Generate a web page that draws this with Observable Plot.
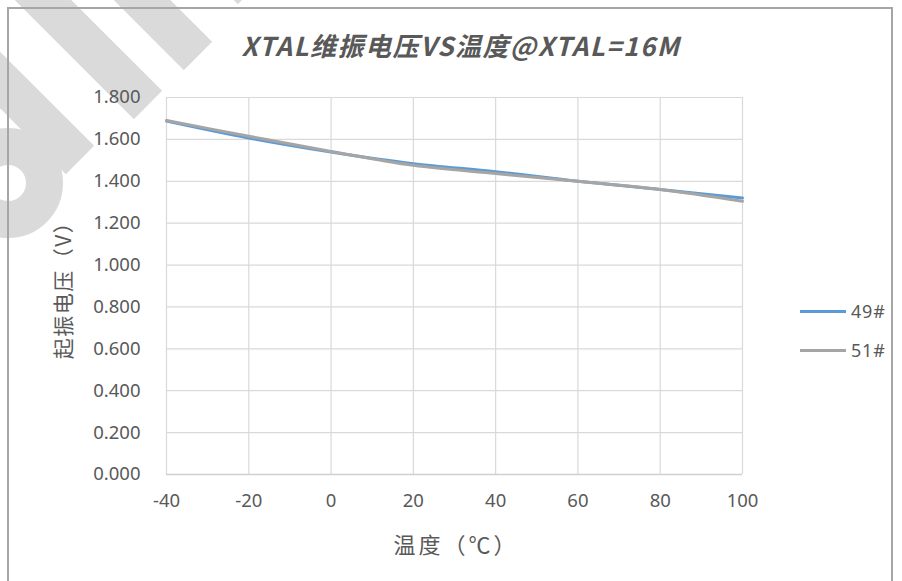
<!DOCTYPE html>
<html><head><meta charset="utf-8">
<script src="https://cdn.jsdelivr.net/npm/d3@7"></script>
<script src="https://cdn.jsdelivr.net/npm/@observablehq/plot@0.6"></script>
<style>
body{margin:0;background:#fff;}
#wrap{position:relative;width:902px;height:581px;overflow:hidden;font-family:"Noto Sans","Noto Sans CJK SC",sans-serif;color:#595959;}
.band{position:absolute;background:#dadada;height:40px;width:320px;transform-origin:100% 50%;transform:rotate(45deg);}
.ring{position:absolute;border:37px solid #dadada;border-radius:50%;width:36px;height:36px;}
#border{position:absolute;left:7px;top:7px;width:886px;height:600px;border:2px solid #a6a6a6;box-sizing:border-box;}
#chart{position:absolute;left:0;top:0;}
#title{position:absolute;left:0;width:922px;top:30px;text-align:center;font-family:"Noto Sans CJK SC",sans-serif;font-weight:bold;font-style:italic;font-size:26px;letter-spacing:1.5px;line-height:30px;color:#595959;}
#xlab{position:absolute;left:356px;width:200px;top:528px;text-align:center;font-family:"Noto Sans CJK SC",sans-serif;font-size:22px;letter-spacing:3px;line-height:30px;}
#ylab{position:absolute;left:62px;top:285px;transform:translate(-50%,-50%) rotate(-90deg);white-space:nowrap;font-family:"Noto Sans CJK SC",sans-serif;font-size:21px;letter-spacing:1.5px;line-height:30px;}
.leg{position:absolute;left:800px;font-size:18px;letter-spacing:0.8px;line-height:20px;display:flex;align-items:center;}
.leg span{display:inline-block;width:46px;height:3px;margin-right:5px;}
</style></head><body>
<div id="wrap">
  <div class="band" style="left:-172px;top:85px"></div>
  <div class="band" style="left:-122px;top:36px"></div>
  <div class="band" style="left:-240px;top:140px"></div>
  <div class="band" style="left:-68px;top:-30px"></div>
  <div class="ring" style="left:-47px;top:128px"></div>
  <div id="border"></div>
  <div id="chart"></div>
  <div id="title">XTAL维振电压VS温度@XTAL=16M</div>
  <div id="ylab">起振电压（V）</div>
  <div id="xlab">温度（℃）</div>
  <div class="leg" style="top:301px"><span style="background:#5b9bd5"></span>49#</div>
  <div class="leg" style="top:340px"><span style="background:#a5a5a5"></span>51#</div>
</div>
<script>
const temps = [-40, -20, 0, 20, 40, 60, 80, 100];
const v49 = [1.688, 1.607, 1.540, 1.484, 1.446, 1.400, 1.361, 1.320];
const v51 = [1.690, 1.615, 1.542, 1.476, 1.437, 1.400, 1.361, 1.305];
const seriesNames = ["49#", "51#"];
const colors = ["#5b9bd5", "#a5a5a5"];
const yTicks = [0, 0.2, 0.4, 0.6, 0.8, 1.0, 1.2, 1.4, 1.6, 1.8];
const xTicks = [-40, -20, 0, 20, 40, 60, 80, 100];

const data = [];
temps.forEach((t, i) => {
  data.push({t, v: v49[i], s: seriesNames[0]});
});
temps.forEach((t, i) => {
  data.push({t, v: v51[i], s: seriesNames[1]});
});

const chart = Plot.plot({
  width: 902, height: 581,
  marginLeft: 166, marginRight: 160, marginTop: 97, marginBottom: 107,
  style: {background: "transparent", fontFamily: "'Noto Sans', sans-serif", fontSize: "18.5px", color: "#595959"},
  x: {domain: [-40, 100], ticks: xTicks, label: null, tickSize: 0, tickPadding: 19, tickFormat: d => String(d)},
  y: {domain: [0, 1.8], ticks: yTicks, label: null, tickSize: 0, tickPadding: 26, tickFormat: d3.format(".3f")},
  color: {domain: seriesNames, range: colors},
  marks: [
    Plot.gridX(xTicks, {stroke: "#d9d9d9", strokeOpacity: 1, strokeWidth: 1.2}),
    Plot.gridY(yTicks, {stroke: "#d9d9d9", strokeOpacity: 1, strokeWidth: 1.2}),
    Plot.ruleY([0], {stroke: "#d0d0d0", strokeWidth: 1.5}),
    Plot.line(data, {x: "t", y: "v", z: "s", stroke: "s", strokeWidth: 3, curve: "catmull-rom"})
  ]
});
document.getElementById("chart").appendChild(chart);
</script>
</body></html>
